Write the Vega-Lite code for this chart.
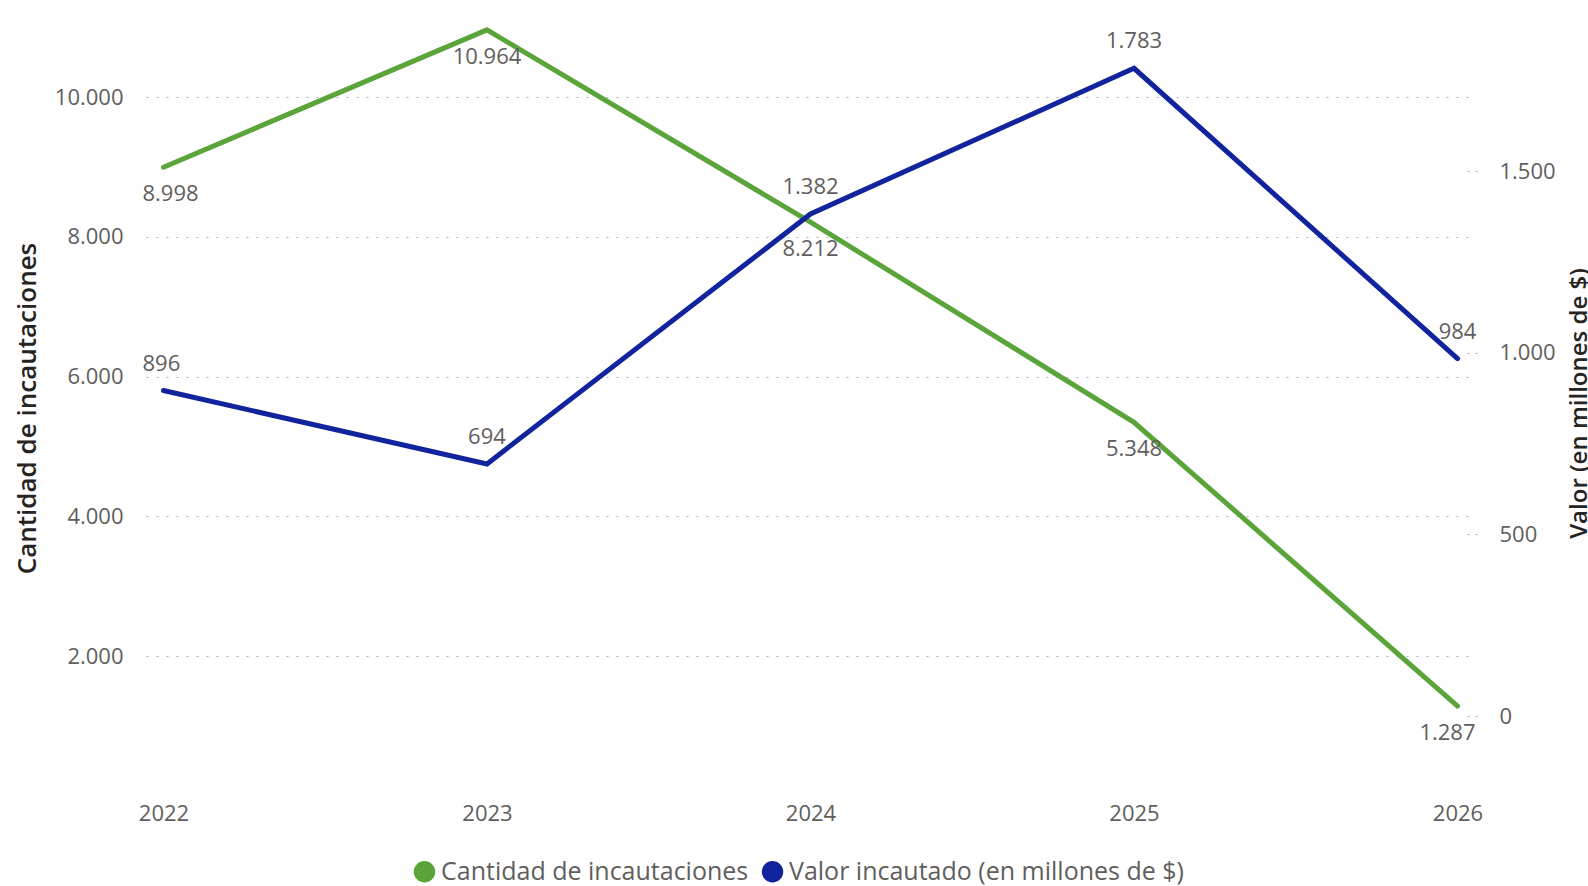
{
  "$schema": "https://vega.github.io/schema/vega-lite/v6.json",
  "width": 1329,
  "height": 776,
  "autosize": {"type": "none"},
  "padding": {"left": 146, "top": 20, "right": 113, "bottom": 90},
  "background": "white",
  "config": {
    "locale": {"number": {"decimal": ",", "thousands": ".", "grouping": [3], "currency": ["$", ""]}},
    "view": {"stroke": null},
    "font": "Open Sans"
  },
  "data": {
    "values": [
      {"year": "2022", "serie": "Cantidad de incautaciones", "value": 8998},
      {"year": "2023", "serie": "Cantidad de incautaciones", "value": 10964},
      {"year": "2024", "serie": "Cantidad de incautaciones", "value": 8212},
      {"year": "2025", "serie": "Cantidad de incautaciones", "value": 5348},
      {"year": "2026", "serie": "Cantidad de incautaciones", "value": 1287},
      {"year": "2022", "serie": "Valor incautado (en millones de $)", "value": 896},
      {"year": "2023", "serie": "Valor incautado (en millones de $)", "value": 694},
      {"year": "2024", "serie": "Valor incautado (en millones de $)", "value": 1382},
      {"year": "2025", "serie": "Valor incautado (en millones de $)", "value": 1783},
      {"year": "2026", "serie": "Valor incautado (en millones de $)", "value": 984}
    ]
  },
  "encoding": {
    "x": {
      "field": "year", "type": "ordinal",
      "scale": {"type": "point", "padding": 0.054},
      "axis": {"title": null, "labelAngle": 0, "ticks": false, "domain": false, "grid": false,
               "labelFontSize": 22, "labelColor": "#605E5C", "labelPadding": 7}
    },
    "color": {
      "field": "serie", "type": "nominal",
      "scale": {"domain": ["Cantidad de incautaciones", "Valor incautado (en millones de $)"], "range": ["#5AA43A", "#12239E"]},
      "legend": {
        "title": null, "orient": "none", "direction": "horizontal",
        "legendX": 266, "legendY": 839,
        "symbolType": "circle", "symbolSize": 400,
        "labelFontSize": 25, "labelColor": "#605E5C", "labelOffset": 4, "columnPadding": 10, "padding": 0, "labelLimit": 700,
        "encode": {"symbols": {"update": {"fill": {"scale": "color", "field": "value"}, "stroke": {"value": "transparent"}, "opacity": {"value": 1}}}}
      }
    }
  },
  "layer": [
    {
      "transform": [{"filter": "datum.serie === 'Cantidad de incautaciones'"}],
      "encoding": {
        "y": {
          "field": "value", "type": "quantitative",
          "scale": {"domain": [0, 11105], "nice": false, "zero": false},
          "axis": {
            "title": "Cantidad de incautaciones", "values": [2000, 4000, 6000, 8000, 10000], "format": ",.0f",
            "ticks": false, "domain": false, "grid": true, "gridDash": [2, 8], "gridColor": "#AFAFAF", "gridWidth": 1.2,
            "labelFontSize": 22, "labelColor": "#605E5C", "labelPadding": 23,
            "titleFontSize": 26, "titleFontWeight": 600, "titleColor": "#252423",
            "titleAngle": 270, "titleBaseline": "alphabetic", "titleAlign": "center", "titleX": -111, "titleY": 388
          }
        }
      },
      "layer": [
        {"mark": {"type": "line", "strokeWidth": 5, "strokeCap": "round"}},
        {"transform": [{"filter": "datum.year !== '2022' && datum.year !== '2026'"}],
         "mark": {"type": "text", "dy": 27, "fontSize": 22, "baseline": "middle"},
         "encoding": {"text": {"field": "value", "type": "quantitative", "format": ",.0f"}, "color": {"value": "#605E5C"}}},
        {"transform": [{"filter": "datum.year === '2022'"}],
         "mark": {"type": "text", "dy": 27, "dx": -21, "align": "left", "fontSize": 22, "baseline": "middle"},
         "encoding": {"text": {"field": "value", "type": "quantitative", "format": ",.0f"}, "color": {"value": "#605E5C"}}},
        {"transform": [{"filter": "datum.year === '2026'"}],
         "mark": {"type": "text", "dy": 27, "dx": 18, "align": "right", "fontSize": 22, "baseline": "middle"},
         "encoding": {"text": {"field": "value", "type": "quantitative", "format": ",.0f"}, "color": {"value": "#605E5C"}}}
      ]
    },
    {
      "transform": [{"filter": "datum.serie === 'Valor incautado (en millones de $)'"}],
      "encoding": {
        "y": {
          "field": "value", "type": "quantitative",
          "scale": {"domain": [-220, 1916], "nice": false, "zero": false},
          "axis": {
            "orient": "right", "title": "Valor (en millones de $)", "values": [0, 500, 1000, 1500], "format": ",.0f",
            "offset": -8, "ticks": true, "tickSize": 12, "tickDash": [2, 6], "tickColor": "#AFAFAF", "tickWidth": 1.2,
            "domain": false, "grid": false,
            "labelFontSize": 22, "labelColor": "#605E5C", "labelPadding": 20,
            "titleFontSize": 24, "titleFontWeight": 600, "titleColor": "#252423",
            "titleAngle": 270, "titleBaseline": "alphabetic", "titleAlign": "center", "titleX": 119, "titleY": 383
          }
        }
      },
      "layer": [
        {"mark": {"type": "line", "strokeWidth": 5, "strokeCap": "round"}},
        {"transform": [{"filter": "datum.year !== '2022'"}],
         "mark": {"type": "text", "dy": -27, "fontSize": 22, "baseline": "middle"},
         "encoding": {"text": {"field": "value", "type": "quantitative", "format": ",.0f"}, "color": {"value": "#605E5C"}}},
        {"transform": [{"filter": "datum.year === '2022'"}],
         "mark": {"type": "text", "dy": -27, "dx": -21, "align": "left", "fontSize": 22, "baseline": "middle"},
         "encoding": {"text": {"field": "value", "type": "quantitative", "format": ",.0f"}, "color": {"value": "#605E5C"}}}
      ]
    }
  ],
  "resolve": {"scale": {"y": "independent"}}
}
